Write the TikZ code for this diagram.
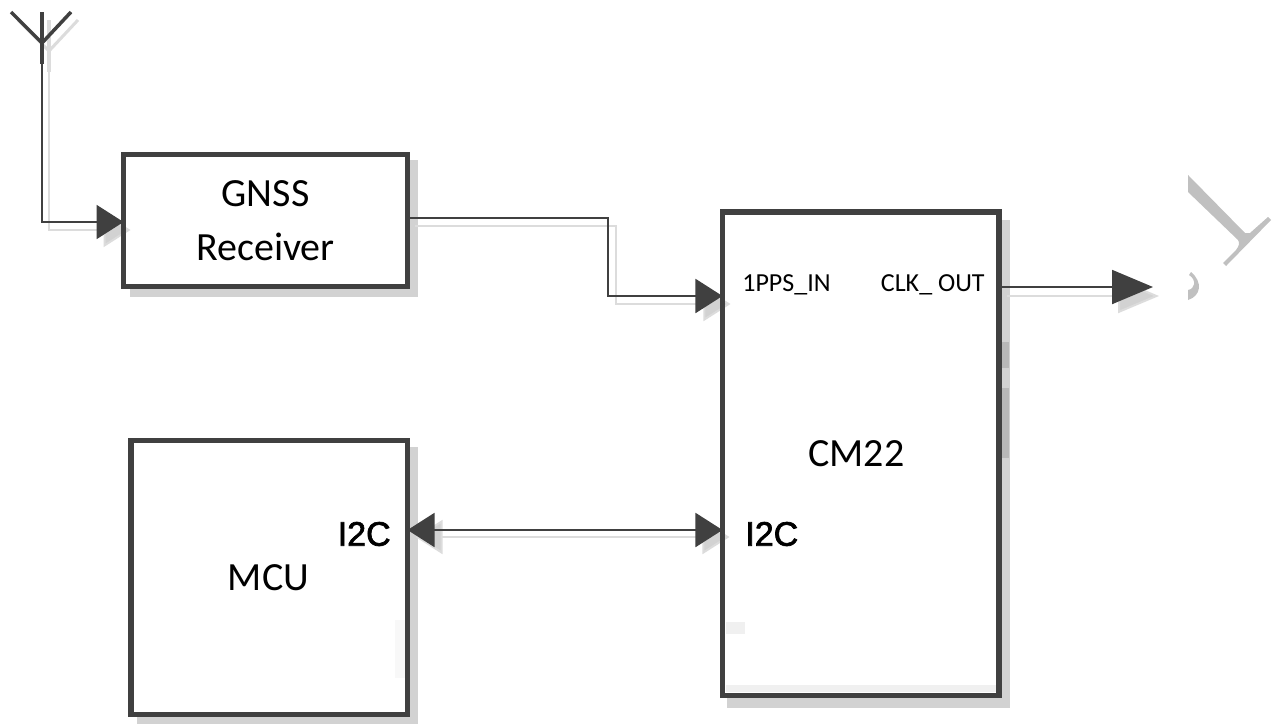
\documentclass[tikz,border=0pt]{standalone}
\usepackage{fontspec}
\setmainfont{Carlito}
\newfontfamily\arialb[FakeBold=2]{Liberation Sans}
\usetikzlibrary{arrows.meta,backgrounds}
\pgfdeclarelayer{shadow}
\pgfsetlayers{background,shadow,main}
\definecolor{ink}{HTML}{404040}
\definecolor{grayshade}{HTML}{D2D2D2}
\definecolor{shadeline}{HTML}{DCDCDC}
\definecolor{shadedark}{HTML}{B8B8B8}
\definecolor{faint}{HTML}{F0F0F0}
\definecolor{frag}{HTML}{C0C0C0}
\tikzset{
  x=0.02cm, y=-0.02cm,
  blockbox/.style={draw=ink, line width=0.105cm, rectangle, inner sep=0pt, outer sep=0pt, anchor=center, align=center, text=black},
  headtip/.tip={Triangle[length=0.54cm,width=0.68cm]},
  longtip/.tip={Triangle[length=0.82cm,width=0.68cm]},
  wire/.style={draw=ink, line width=0.04cm, -{headtip[fill=ink]}},
  longwire/.style={draw=ink, line width=0.04cm, -{longtip[fill=ink]}},
  wireboth/.style={draw=ink, line width=0.04cm, {headtip[fill=ink]}-{headtip[fill=ink]}},
  shadewire/.style={draw=shadeline, line width=0.04cm, -{headtip[fill=grayshade]}},
  longshadewire/.style={draw=shadeline, line width=0.04cm, -{longtip[fill=grayshade]}},
  shadewireboth/.style={draw=shadeline, line width=0.04cm, {headtip[fill=grayshade]}-{headtip[fill=grayshade]}},
  bigtext/.style={font=\fontsize{22.76pt}{31pt}\selectfont},
  porttext/.style={font=\fontsize{14.8pt}{16pt}\selectfont, text=black, inner sep=0pt},
  i2ctext/.style={font=\arialb\fontsize{19.35pt}{21pt}\selectfont, text=black, inner sep=0pt},
}
\begin{document}
\begin{tikzpicture}
\useasboundingbox (0,0) rectangle (1280,724);

% blocks
\node[blockbox, bigtext, minimum width=5.68cm, minimum height=2.64cm] (gnss) at (265.5,220.5) {GNSS\\Receiver};
\node[blockbox, bigtext, minimum width=5.53cm, minimum height=9.67cm] (cm) at (860.7,453.7) {\raisebox{-1pt}{\kern-5pt CM22}};
\node[blockbox, bigtext, minimum width=5.53cm, minimum height=5.48cm] (mcu) at (269.3,577.5) {\kern-1pt MCU};

% labels
\node[porttext, anchor=west] (pps) at (742,285) {1PPS\_IN};
\node[porttext, anchor=east] (clk) at (985,285) {CLK\_ OUT};
\node[i2ctext, anchor=west] (i2cb) at (745,534) {I2C};
\node[i2ctext, anchor=east] (i2ca) at (391,534) {I2C};

% ports and free ends
\coordinate (ant) at (42,64);
\coordinate (gin) at (gnss.west |- 0,222);
\coordinate (gout) at (gnss.east |- 0,218);
\coordinate (bend) at (608,218);
\coordinate (ppsin) at (cm.west |- 0,296);
\coordinate (clkout) at (cm.east |- 0,287);
\coordinate (clkend) at (1153,287);
\coordinate (mi2c) at (mcu.east |- 0,530);
\coordinate (ci2c) at (cm.west |- 0,530);

% connectors
\draw[wire] (ant) |- (gin);
\draw[wire] (gout) -- (bend) |- (ppsin);
\draw[longwire] (clkout) -- (clkend);
\draw[wireboth] (mi2c) -- (ci2c);

% antenna
\draw[ink, line width=0.09cm] (42,12) -- (ant);
\draw[ink, line width=0.07cm] (11,12) -- (42,43) -- (71,12);

\begin{pgfonlayer}{shadow}
  \draw[shadewire] ([shift={(7,8)}]ant) |- ([shift={(7,8)}]gin);
  \draw[shadewire] ([shift={(8,8)}]gout) -- ([shift={(8,8)}]bend) |- ([shift={(8,8)}]ppsin);
  \draw[longshadewire] ([shift={(8,9)}]clkout) -- ([shift={(6,9)}]clkend);
  \draw[shadewireboth] ([shift={(8,7)}]mi2c) -- ([shift={(7,7)}]ci2c);
  \draw[shadeline, line width=0.08cm] (49,20) -- (49,72);
  \draw[shadeline, line width=0.06cm] (18,20) -- (49,51) -- (78,20);
  % light patches inside the blocks
  \fill[faint] (726,685) rectangle (996,692);
  \fill[faint] (726,622) rectangle (745,634);
  \fill[faint!50!white] (395,620) rectangle (405,678);
\end{pgfonlayer}

\begin{pgfonlayer}{background}
  \fill[white] (0,0) rectangle (1280,724);
  % block shadows
  \fill[grayshade] (130,160) rectangle (418,297);
  \fill[grayshade] (727,220) rectangle (1010,708);
  \fill[grayshade] (137,447) rectangle (418,724);
  \fill[shadedark] (1002,342) rectangle (1009,368);
  \fill[shadedark] (1002,388) rectangle (1009,458);
  % block faces
  \fill[white] (gnss.south west) rectangle (gnss.north east);
  \fill[white] (cm.south west) rectangle (cm.north east);
  \fill[white] (mcu.south west) rectangle (mcu.north east);
  % remaining fragments at the right edge
  \fill[frag] (1188,175) -- (1245,233) -- (1250,233) -- (1268,217) -- (1271,220) -- (1226,266) -- (1223,263) -- (1236,250) .. controls (1239,246) and (1240,243) .. (1238,240) -- (1188,192) -- cycle;
  \fill[frag] (1191,272) .. controls (1203,282) and (1201,296) .. (1188,300) -- (1188,290) .. controls (1195,289) and (1197,280) .. (1189,275) -- cycle;
\end{pgfonlayer}
\end{tikzpicture}
\end{document}
